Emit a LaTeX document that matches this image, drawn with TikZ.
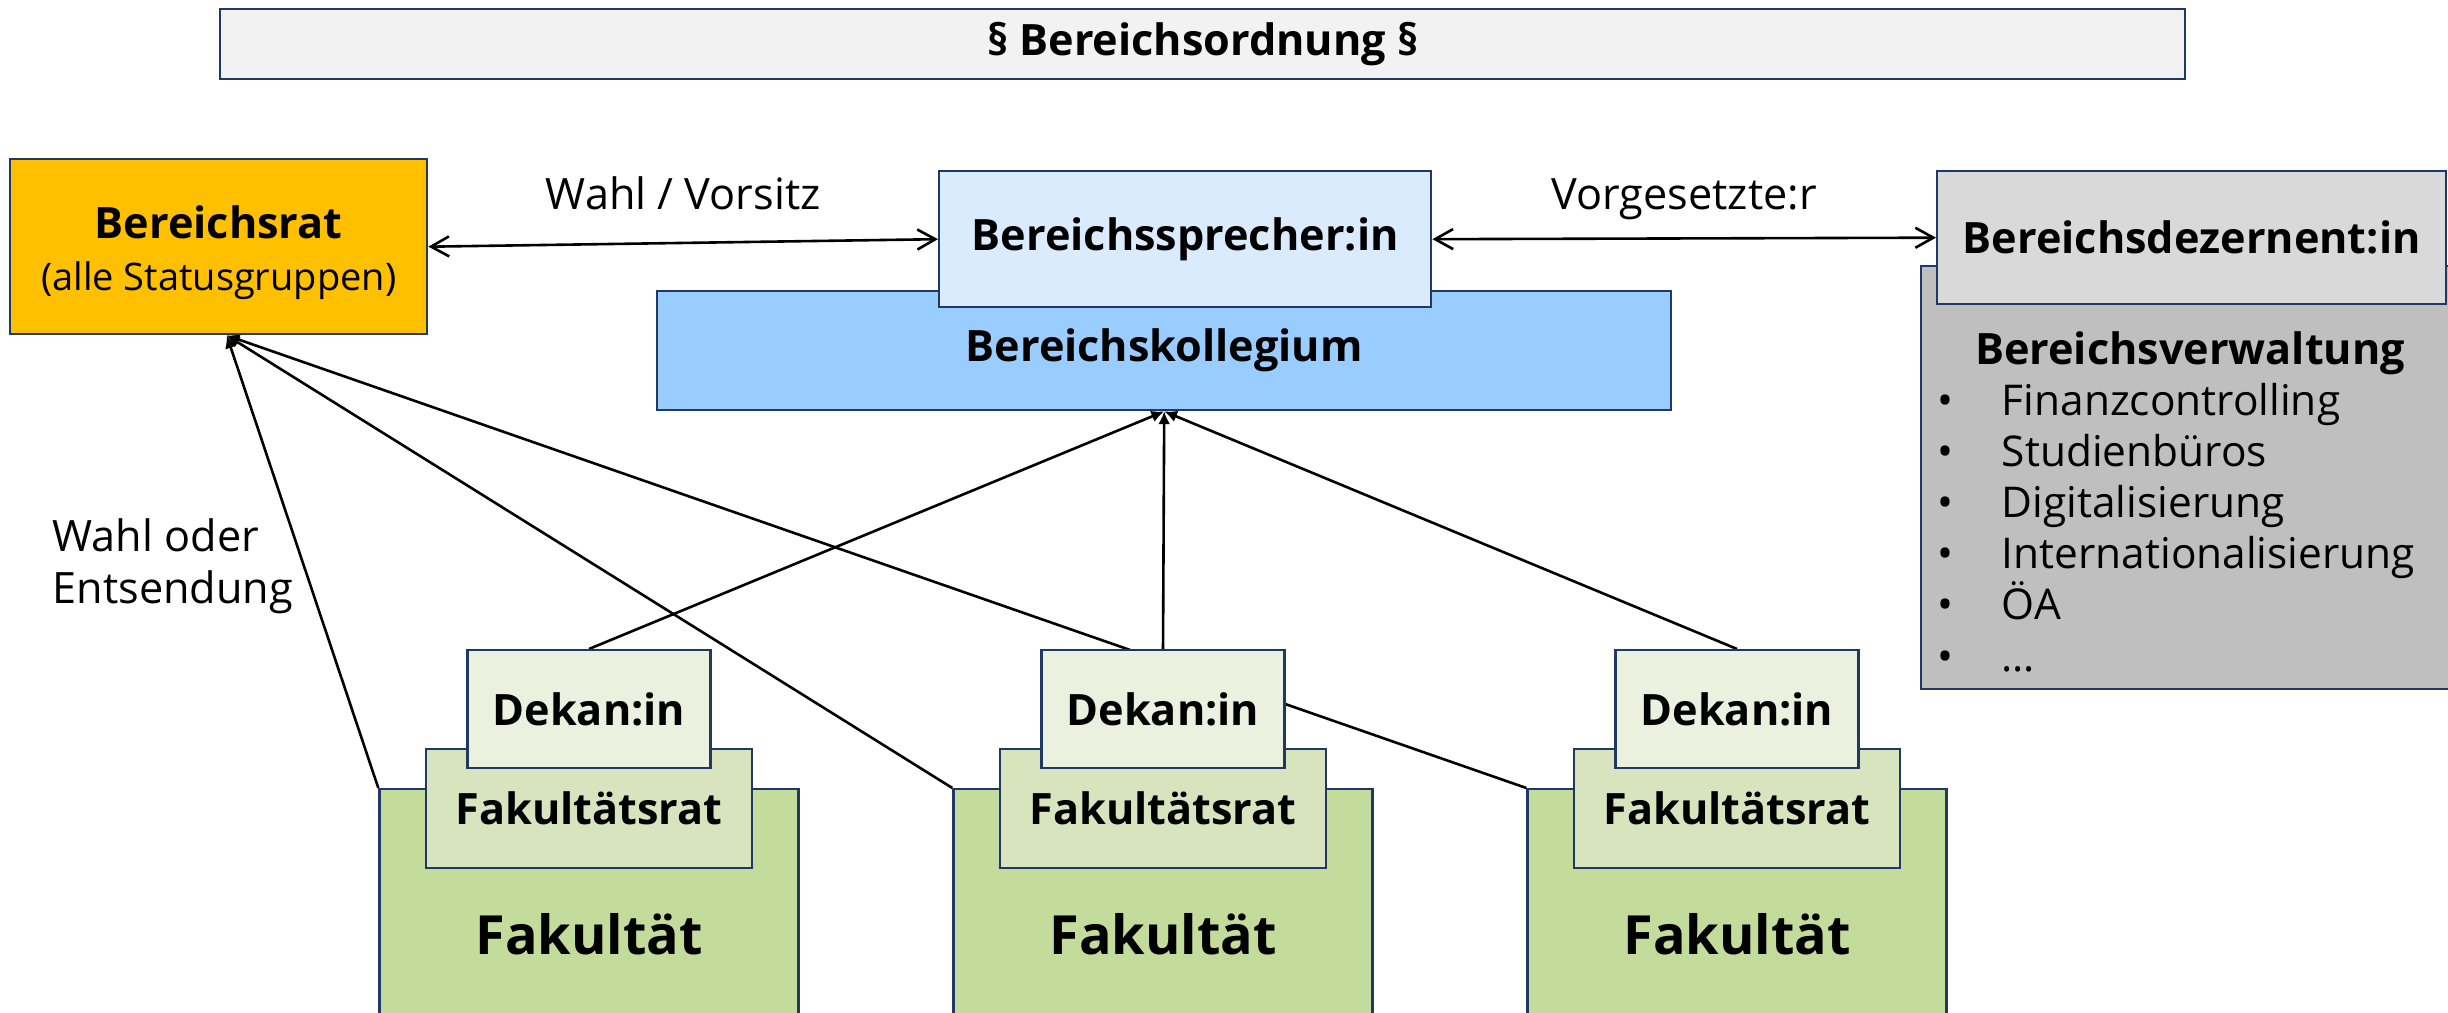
\documentclass[tikz,border=0pt]{standalone}
\usepackage{fontspec}
\setmainfont{Open Sans}
\usepackage{tikz}
\usetikzlibrary{positioning}
\usetikzlibrary{arrows.meta}
\usetikzlibrary{backgrounds}

\definecolor{rand}{RGB}{31,56,100}
\definecolor{titelgrau}{HTML}{F2F2F2}
\definecolor{ratgelb}{HTML}{FFC000}
\definecolor{sprecherblau}{RGB}{218,235,254}
\definecolor{kollegblau}{HTML}{99CCFF}
\definecolor{dezgrau}{HTML}{D9D9D9}
\definecolor{verwgrau}{HTML}{BFBFBF}
\definecolor{dekangruen}{HTML}{EBF1DE}
\definecolor{fratgruen}{HTML}{D7E4BD}
\definecolor{fakgruen}{HTML}{C3DB9B}

\begin{document}
\begin{tikzpicture}[x=0.25pt,y=-0.25pt,
  kasten/.style={draw=rand,line width=0.6pt,inner sep=0pt,align=center,font=\fontsize{10.8pt}{13pt}\selectfont\bfseries},
  schrift/.style={inner sep=0pt,font=\fontsize{10.8pt}{13pt}\selectfont},
  pfeil/.style={line width=0.65pt,-{Latex[length=3.2pt,width=3pt]}},
  doppel/.style={line width=0.65pt,{Straight Barb[length=4.5pt,width=5pt]}-{Straight Barb[length=4.5pt,width=5pt]}}]
\useasboundingbox (0,0) rectangle (2448,1013);
\node[kasten,fill=titelgrau,anchor=north west,minimum width=491.25pt,minimum height=17.5pt] (titel) at (219,8) {§ Bereichsordnung §};
%%%%%%%%%%%%%%%%%%%%%%%%%%%%%%%%%%%%%
\node[kasten,fill=ratgelb,anchor=north west,minimum width=104.25pt,minimum height=43.75pt] (rat) at (9,158) {\rule{0pt}{11pt}Bereichsrat\\\mdseries\fontsize{9.5pt}{12.5pt}\selectfont(alle Statusgruppen)};
\node[kasten,fill=kollegblau,anchor=north west,minimum width=253.5pt,minimum height=29.75pt] (kollegium) at (656,290) {Bereichskollegium};
\node[kasten,fill=sprecherblau,anchor=north west,minimum width=123pt,minimum height=34pt] (sprecher) at (938,170) {Bereichssprecher:in};
\node[kasten,fill=verwgrau,anchor=north west,minimum width=150pt,minimum height=105.75pt] (verwaltung) at (1920,265) {};
\node[kasten,fill=dezgrau,anchor=north west,minimum width=127.25pt,minimum height=33.25pt] (dezernent) at (1936,170) {Bereichsdezernent:in};
\node[schrift,font=\fontsize{10.8pt}{13pt}\selectfont\bfseries] (verwtitel) at (2190,353) {Bereichsverwaltung};
\node[schrift,anchor=north west,align=left,font=\fontsize{10.6pt}{12.8pt}\selectfont] (verwliste) at (1937,382) {\makebox[16pt][l]{•}Finanzcontrolling\\\makebox[16pt][l]{•}Studienbüros\\\makebox[16pt][l]{•}Digitalisierung\\\makebox[16pt][l]{•}Internationalisierung\\\makebox[16pt][l]{•}ÖA\\\makebox[16pt][l]{•}…};
%%%%%%%%%%%%%%%%%%%%%%%%%%%%%%%%%%%%%
\node[kasten,fill=fakgruen,anchor=north,minimum width=104.75pt,minimum height=72.5pt,font=\fontsize{13.5pt}{16pt}\selectfont\bfseries] (fak1) at (589,788) {Fakultät};
\node[kasten,fill=fratgruen,anchor=north,minimum width=81.5pt,minimum height=29.75pt] (frat1) at (589,748) {Fakultätsrat};
\node[kasten,fill=dekangruen,anchor=north,minimum width=60.75pt,minimum height=29.5pt] (dekan1) at (589,649) {Dekan:in};
%%%%%%%%%%%%%%
\node[kasten,fill=fakgruen,anchor=north,minimum width=104.75pt,minimum height=72.5pt,font=\fontsize{13.5pt}{16pt}\selectfont\bfseries] (fak2) at (1163,788) {Fakultät};
\node[kasten,fill=fratgruen,anchor=north,minimum width=81.5pt,minimum height=29.75pt] (frat2) at (1163,748) {Fakultätsrat};
\node[kasten,fill=dekangruen,anchor=north,minimum width=60.75pt,minimum height=29.5pt] (dekan2) at (1163,649) {Dekan:in};
%%%%%%%%%%%%%%
\node[kasten,fill=fakgruen,anchor=north,minimum width=104.75pt,minimum height=72.5pt,font=\fontsize{13.5pt}{16pt}\selectfont\bfseries] (fak3) at (1737,788) {Fakultät};
\node[kasten,fill=fratgruen,anchor=north,minimum width=81.5pt,minimum height=29.75pt] (frat3) at (1737,748) {Fakultätsrat};
\node[kasten,fill=dekangruen,anchor=north,minimum width=60.75pt,minimum height=29.5pt] (dekan3) at (1737,649) {Dekan:in};
%%%%%%%%%%%%%%%%%%%%%%%%%%%%%%%%%%%%%
\node[schrift,align=left,anchor=west] (wahltext) at (52,566) {Wahl oder\\Entsendung};

\begin{scope}[on background layer]
\draw[doppel] (rat.east) -- node[schrift,midway,above=8pt] (wahl) {Wahl / Vorsitz} (sprecher.west);
\draw[doppel] (sprecher.east) -- node[schrift,midway,above=4.2pt] (vorg) {Vorgesetzte:r} (dezernent.west);
%%%%%%%%%%
\draw[pfeil] (fak1.north west) -- ([xshift=2pt]rat.south);
\draw[pfeil] (fak2.north west) -- ([xshift=2pt]rat.south);
\draw[pfeil] (fak3.north west) -- ([xshift=2pt]rat.south);
%%%%%%%%%%
\draw[pfeil] (dekan1.north) -- (kollegium.south);
\draw[pfeil] (dekan2.north) -- (kollegium.south);
\draw[pfeil] (dekan3.north) -- (kollegium.south);
\end{scope}
\end{tikzpicture}
\end{document}
